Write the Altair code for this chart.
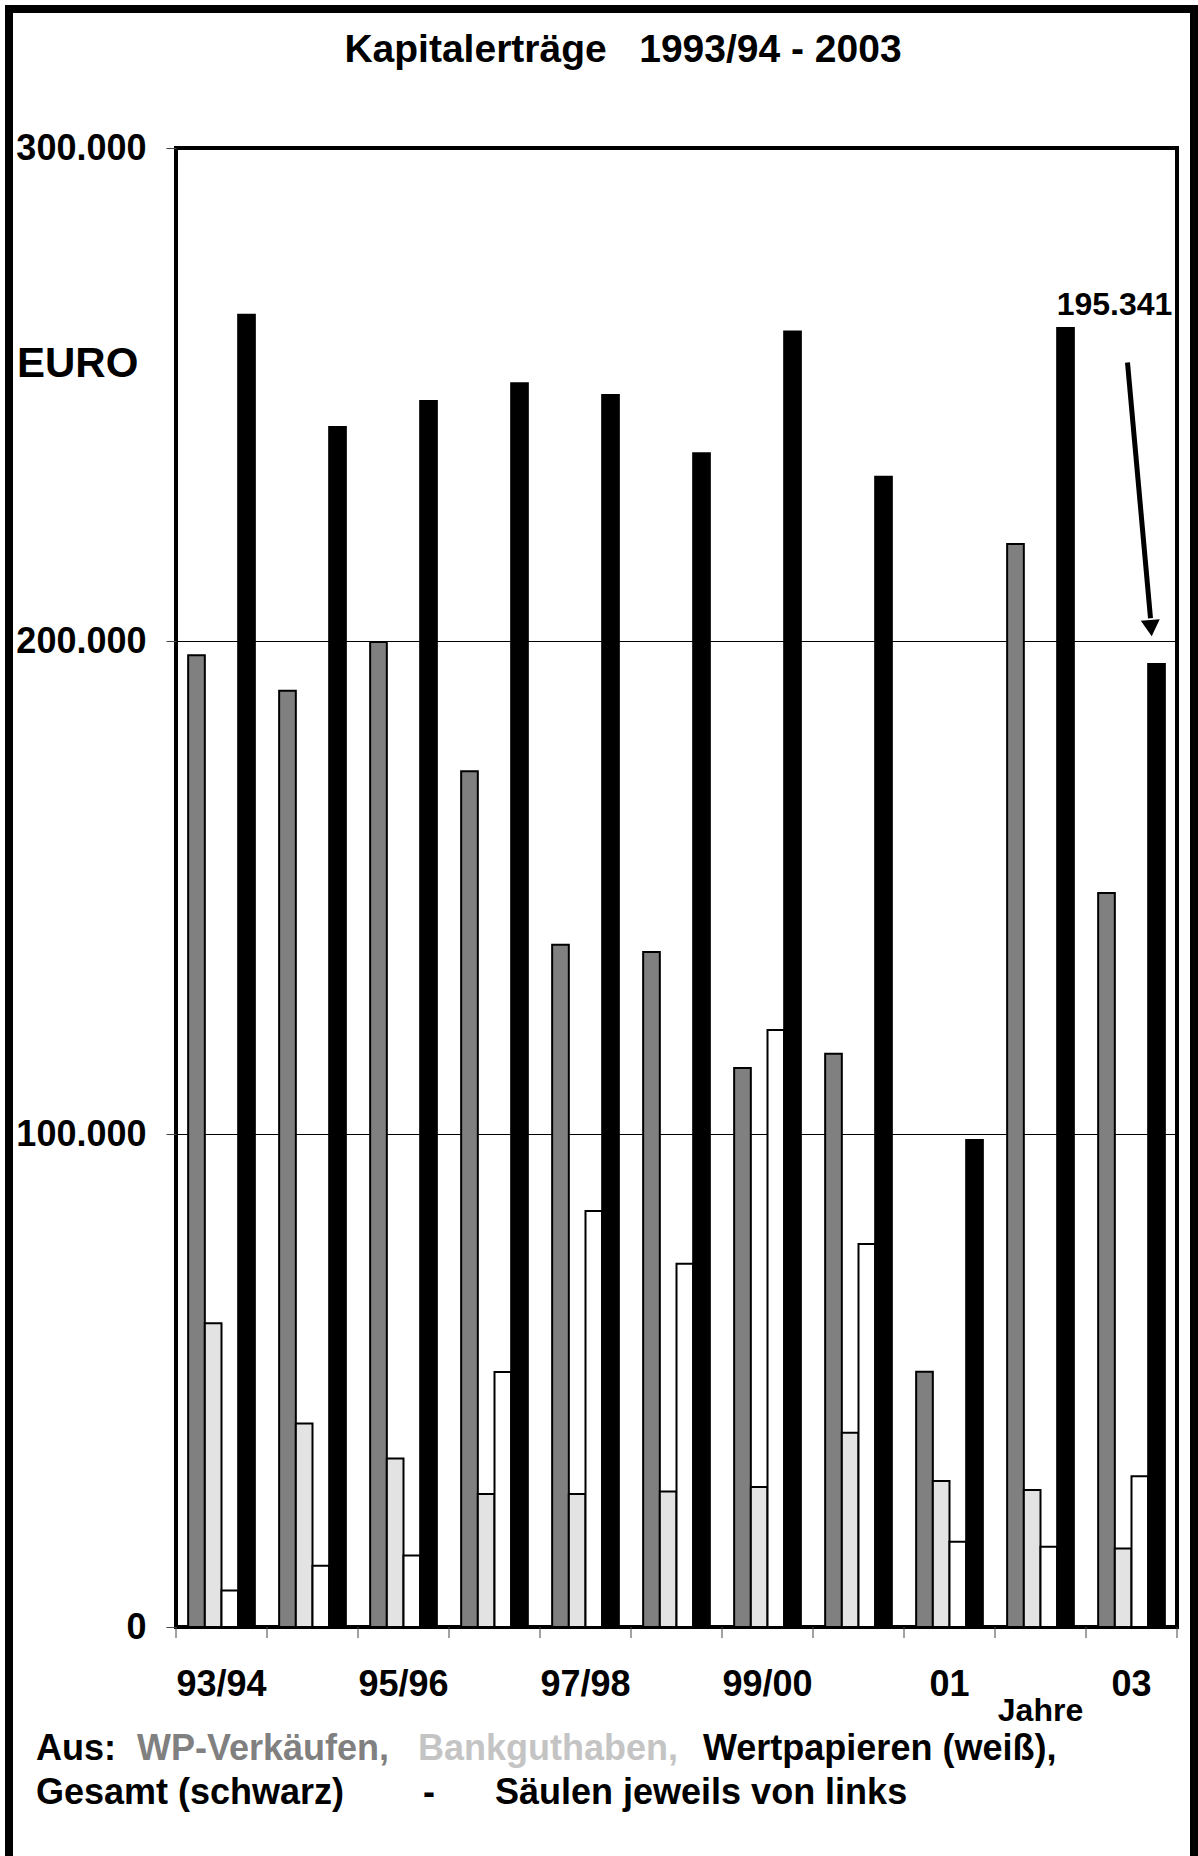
import altair as alt
import pandas as pd

# ---------------- data ----------------
categories = ["93/94", "94/95", "95/96", "96/97", "97/98", "98/99", "99/00", "00", "01", "02", "03"]
shown_labels = ["93/94", "95/96", "97/98", "99/00", "01", "03"]
series = ["WP-Verkäufe", "Bankguthaben", "Wertpapiere", "Gesamt"]
series_colors = ["#808080", "#e3e3e3", "#ffffff", "#000000"]

wp_verkaeufe = [197100, 189900, 199800, 173600, 138400, 136900, 113400, 116300, 51800, 219700, 148900]
bankguthaben = [61600, 41300, 34200, 27000, 27000, 27500, 28400, 39400, 29600, 27800, 15900]
wertpapiere = [7400, 12400, 14500, 51700, 84400, 73700, 121100, 77700, 17300, 16300, 30600]
gesamt = [266200, 243400, 248700, 252300, 249900, 238100, 262800, 233300, 98800, 263500, 195341]

y_ticks = [0, 100000, 200000, 300000]

title_text = "Kapitalerträge\u00a0\u00a0 1993/94 - 2003"
unit_text = "EURO"
legend_line1 = ["Aus:", "WP-Verkäufen,", "Bankguthaben,", "Wertpapieren (weiß),"]
legend_line1_colors = ["#000000", "#808080", "#c4c4c4", "#000000"]
legend_line2 = ["Gesamt (schwarz)", "-", "Säulen jeweils von links"]

# annotation: value of the last total, arrow from label down to its bar
ann_cat = categories[-1]
ann_label_y = 266100
arrow_from_y = 256500
arrow_to_y = 204600
arrow_head_y = 202600

# ---------------- tables ----------------
rows = []
for vals, s in zip([wp_verkaeufe, bankguthaben, wertpapiere, gesamt], series):
    for c, v in zip(categories, vals):
        rows.append({"Jahr": c, "Serie": s, "Wert": v})
df = pd.DataFrame(rows)

ann_text_df = pd.DataFrame({"Jahr": [ann_cat], "Wert": [ann_label_y],
                            "t": [f"{gesamt[-1]:,}".replace(",", ".")]})
arrow_df = pd.DataFrame({"Jahr": [ann_cat], "Wert": [arrow_from_y], "Wert2": [arrow_to_y]})
head_df = pd.DataFrame({"Jahr": [ann_cat], "Wert": [arrow_head_y]})
cat_df = pd.DataFrame({"Jahr": categories})
last_df = pd.DataFrame({"Jahr": [categories[-1]]})

FONT = "Liberation Sans"
W, H = 1001, 1479
STEP = W / len(categories)

label_list = "[" + ",".join("'" + s + "'" for s in shown_labels) + "]"


def x_enc():
    return alt.X(
        "Jahr:N", sort=categories,
        scale=alt.Scale(paddingInner=0.267, paddingOuter=0.1335),
        axis=alt.Axis(
            title="Jahre", domain=False, ticks=False, tickSize=0, labelAngle=0,
            labelExpr=f"indexof({label_list}, datum.value) >= 0 ? datum.value : ''",
            labelOverlap=False, labelFont=FONT, labelFontSize=36, labelFontWeight="bold",
            labelColor="black", labelPadding=68, labelBaseline="alphabetic",
            titleFont=FONT, titleFontSize=32, titleFontWeight="bold", titleColor="black",
            titleX=864, titleY=93, titleAlign="center", titleBaseline="alphabetic",
        ),
    )


def y_enc():
    return alt.Y(
        "Wert:Q", scale=alt.Scale(domain=[0, 300000], nice=False),
        axis=alt.Axis(
            values=y_ticks, title=None, domain=False, grid=True, gridColor="black",
            gridWidth=1, tickSize=10, tickColor="#444444", tickWidth=1,
            labelExpr="replace(format(datum.value, ','), ',', '.')",
            labelFont=FONT, labelFontSize=36, labelFontWeight="bold", labelColor="black",
            labelPadding=20, labelBaseline="middle",
        ),
    )


bars = alt.Chart(df).mark_bar(stroke="black", strokeWidth=2).encode(
    x=x_enc(),
    xOffset=alt.XOffset("Serie:N", sort=series, scale=alt.Scale(paddingInner=0, paddingOuter=0)),
    y=y_enc(),
    fill=alt.Fill("Serie:N", scale=alt.Scale(domain=series, range=series_colors), legend=None),
)

ticks = alt.Chart(cat_df).mark_rule(color="#444444", strokeWidth=1, xOffset=-STEP / 2).encode(
    x=x_enc(), y=alt.value(H), y2=alt.value(H + 11))
end_tick = alt.Chart(last_df).mark_rule(color="#444444", strokeWidth=1, xOffset=STEP / 2).encode(
    x=x_enc(), y=alt.value(H), y2=alt.value(H + 11))

ann_text = alt.Chart(ann_text_df).mark_text(
    font=FONT, fontSize=32, fontWeight="bold", color="black", align="center",
    baseline="alphabetic", dx=-17).encode(x=x_enc(), y=y_enc(), text="t:N")

arrow = alt.Chart(arrow_df).mark_rule(color="black", strokeWidth=5, xOffset=-4, x2Offset=19).encode(
    x=x_enc(), x2=alt.X2("Jahr:N"), y=y_enc(), y2=alt.Y2("Wert2:Q"))

head = alt.Chart(head_df).mark_point(
    shape="triangle-down", filled=True, size=360, color="black", opacity=1,
    xOffset=19.5, angle=355).encode(x=x_enc(), y=y_enc())

one = pd.DataFrame({"k": [0]})

frame = alt.Chart(one).mark_rect(filled=False, stroke="black", strokeWidth=8).encode(
    x=alt.value(-167), x2=alt.value(1018), y=alt.value(-139), y2=alt.value(1730))

title = alt.Chart(one).mark_text(
    font=FONT, fontSize=39, fontWeight="bold", color="black", align="center",
    baseline="alphabetic", text=title_text).encode(x=alt.value(447), y=alt.value(-86))

unit = alt.Chart(one).mark_text(
    font=FONT, fontSize=42, fontWeight="bold", color="black", align="left",
    baseline="alphabetic", text=unit_text).encode(x=alt.value(-159), y=alt.value(229))

legend_layers = []
line1_x = [-140, -39, 242, 527]
for txt, col, xp in zip(legend_line1, legend_line1_colors, line1_x):
    legend_layers.append(alt.Chart(one).mark_text(
        font=FONT, fontSize=36, fontWeight="bold", color=col, align="left",
        baseline="alphabetic", text=txt).encode(x=alt.value(xp), y=alt.value(1612)))
line2_x = [-140, 247, 319]
for txt, xp in zip(legend_line2, line2_x):
    legend_layers.append(alt.Chart(one).mark_text(
        font=FONT, fontSize=36, fontWeight="bold", color="black", align="left",
        baseline="alphabetic", text=txt).encode(x=alt.value(xp), y=alt.value(1656)))

chart = alt.layer(
    bars, ticks, end_tick, arrow, head, ann_text, frame, title, unit, *legend_layers
).properties(
    width=W, height=H,
    padding={"left": 176, "top": 148, "right": 21, "bottom": 229},
    autosize=alt.AutoSizeParams(type="none"),
    background="white",
).configure_view(stroke="black", strokeWidth=4)

chart.save("out.html", embed_options={"renderer": "svg", "actions": False})
